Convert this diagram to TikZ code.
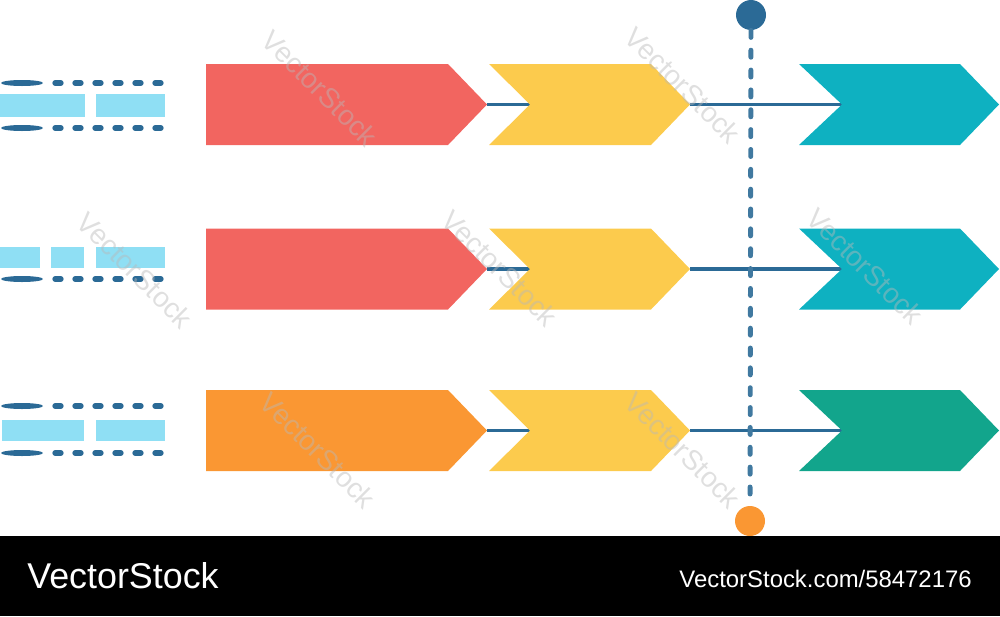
\documentclass[tikz,border=0pt]{standalone}
\usepackage{fontspec}
\setmainfont{Liberation Sans}
\definecolor{redA}{HTML}{F26560}
\definecolor{yellowA}{HTML}{FCCB4D}
\definecolor{tealA}{HTML}{0EB1C1}
\definecolor{orangeA}{HTML}{FA9733}
\definecolor{greenA}{HTML}{12A58C}
\definecolor{navyA}{HTML}{2B6A96}
\definecolor{skyA}{HTML}{8FDFF4}

\begin{document}
\begin{tikzpicture}[x=0.02cm, y=-0.02cm,
		link/.style={line width=2pt, navyA},
		dots/.style={line width=3pt, navyA, line cap=round},
		vline/.style={line width=2.8pt, navyA!90, line cap=round, dash pattern=on 4pt off 7.3pt},
		endpoint/.style={circle, minimum size=0.6cm, inner sep=0pt},
		block/.style={fill=skyA},
		wmark/.style={rotate=-45, text=gray!55, opacity=0.45, font=\fontsize{16}{16}\selectfont}]
	\useasboundingbox (0,0) rectangle (1000,616);

		\foreach \yc/\first/\last [count=\i] in {104.5/redA/tealA, 269/redA/tealA, 430.5/orangeA/greenA} {
			\coordinate (tip\i) at (487,\yc);
			\coordinate (notch\i) at (530,\yc);
			\coordinate (mid\i) at (690,\yc);
			\coordinate (end\i) at (842,\yc);
			\draw[link] (tip\i) -- (notch\i);
			\draw[link] (mid\i) -- (end\i);
			\fill[\first] (206,\yc-40.5) -- (448,\yc-40.5) -- (tip\i) -- (448,\yc+40.5) -- (206,\yc+40.5) -- cycle;
			\fill[yellowA] (489,\yc-40.5) -- (651,\yc-40.5) -- (mid\i) -- (651,\yc+40.5) -- (489,\yc+40.5) -- (notch\i) -- cycle;
			\fill[\last] (799,\yc-40.5) -- (960,\yc-40.5) -- (999,\yc) -- (960,\yc+40.5) -- (799,\yc+40.5) -- (end\i) -- cycle;
		}

		\node[endpoint, fill=navyA] (top) at (751,15) {};
		\node[endpoint, fill=orangeA] (bottom) at (750,521) {};
		\draw[vline] (top) -- (bottom);

		\foreach \y in {83,128,279,406,453} {
			\fill[navyA] (22,\y) ellipse (21 and 3);
			\foreach \x in {52,72,...,152}
				\draw[dots] (\x+3,\y) -- (\x+9,\y);
		}
		\fill[block] (0,94) rectangle (85,117);
		\fill[block] (96,94) rectangle (165,117);
		\fill[block] (0,247) rectangle (40,268);
		\fill[block] (51,247) rectangle (84,268);
		\fill[block] (96,247) rectangle (165,268);
		\fill[block] (2,420) rectangle (84,441);
		\fill[block] (96,420) rectangle (165,441);

		\foreach \x/\y [count=\i] in {320/88, 683/85, 135/270, 500/268, 865/266, 318/450, 683/450}
			\node[wmark] (wm\i) at (\x,\y) {VectorStock};

		\fill[black] (0,536) rectangle (1000,616);
		\node[anchor=base west, inner sep=0pt, text=white, font=\fontsize{20.4}{20.4}\selectfont] (brand) at (27,588) {VectorStock};
		\node[anchor=base east, inner sep=0pt, text=white, font=\fontsize{13.6}{13.6}\selectfont] (ref) at (972,587) {VectorStock.com/58472176};

	\end{tikzpicture}
\end{document}
